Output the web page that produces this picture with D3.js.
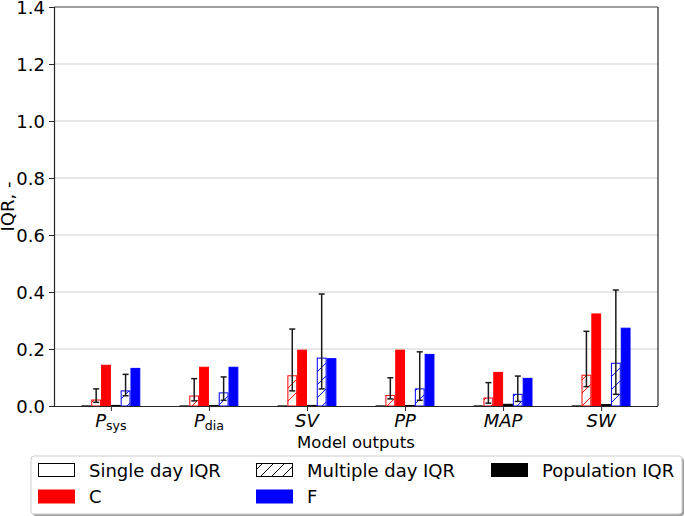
<!DOCTYPE html>
<html><head><meta charset="utf-8">
<script src="https://cdn.jsdelivr.net/npm/d3@7"></script>
<style>
body{margin:0;background:#fff;}
svg{display:block;font-family:"DejaVu Sans",sans-serif;}
</style></head>
<body><svg id="c" width="685" height="516"></svg>
<script>
// ---- data ----
const categories = ["Psys","Pdia","SV","PP","MAP","SW"];
const catMain = ["P","P","SV","PP","MAP","SW"];
const catSub = ["sys","dia","","","",""];
const singleDayC = [0.001,0.001,0.001,0.001,0.001,0.001];
const multiDayC = [0.021,0.035,0.106,0.037,0.028,0.108];
const multiDayCLo = [0.013,0.018,0.053,0.025,0.010,0.068];
const multiDayCHi = [0.060,0.096,0.270,0.099,0.082,0.262];
const populationC = [0.143,0.136,0.196,0.196,0.118,0.323];
const singleDayF = [0.002,0.002,0.002,0.002,0.006,0.005];
const multiDayF = [0.053,0.046,0.168,0.060,0.041,0.150];
const multiDayFLo = [0.036,0.020,0.060,0.020,0.016,0.041];
const multiDayFHi = [0.111,0.102,0.393,0.190,0.105,0.407];
const populationF = [0.132,0.136,0.166,0.181,0.097,0.273];
const yTicks = [0,0.2,0.4,0.6,0.8,1.0,1.2,1.4];
const legendLabels = ["Single day IQR","C","Multiple day IQR","F","Population IQR"];

const svg = d3.select("#c");
const L=54,R=658,T=7,B=406;
const x = d3.scaleLinear().domain([-0.58,5.58]).range([L,R]);
const y = d3.scaleLinear().domain([0,1.4]).range([B,T]);
const bw = 0.1;
const FS = 18;

// hatch patterns
const defs = svg.append("defs");
function hatch(id,color,s){
  const p = defs.append("pattern").attr("id",id).attr("patternUnits","userSpaceOnUse")
    .attr("width",s).attr("height",s);
  p.append("rect").attr("width",s).attr("height",s).attr("fill","#fff");
  p.append("path").attr("d",`M0,${s} L${s},0 M-3,3 L3,-3 M${s-3},${s+3} L${s+3},${s-3}`)
    .attr("stroke",color).attr("stroke-width",1).attr("fill","none");
}
hatch("hR","#ff0000",13); hatch("hB","#0000ff",13); hatch("hK","#000",11);

// grid
svg.append("g").selectAll("line").data(yTicks.slice(1)).join("line")
  .attr("x1",L).attr("x2",R).attr("y1",d=>y(d)).attr("y2",d=>y(d))
  .attr("stroke",d=>d===1.4?"#808080":"#cfcfcf").attr("stroke-width",1);

// bars
const series = [
  {vals:singleDayC, off:-0.25, fill:"#fff", stroke:"#333"},
  {vals:multiDayC, off:-0.15, fill:"url(#hR)", stroke:"#ff0000", lo:multiDayCLo, hi:multiDayCHi},
  {vals:populationC, off:-0.05, fill:"#ff0000", stroke:"#ff0000"},
  {vals:singleDayF, off:0.05, fill:"#000", stroke:"#000"},
  {vals:multiDayF, off:0.15, fill:"url(#hB)", stroke:"#0000ff", lo:multiDayFLo, hi:multiDayFHi},
  {vals:populationF, off:0.25, fill:"#0000ff", stroke:"#0000ff"}
];
const gb = svg.append("g");
series.forEach(s=>{
  gb.append("g").selectAll("rect").data(s.vals).join("rect")
    .attr("x",(d,i)=>x(i+s.off-bw/2)+0.5).attr("width",x(bw)-x(0)-1)
    .attr("y",d=>y(d)).attr("height",d=>Math.max(0.5,y(0)-y(d)))
    .attr("fill",s.fill).attr("stroke",s.stroke).attr("stroke-width",1);
});
// error bars
series.filter(s=>s.lo).forEach(s=>{
  const g = svg.append("g").attr("stroke","#1a1a1a").attr("stroke-width",1.5);
  s.vals.forEach((v,i)=>{
    const cx = x(i+s.off);
    g.append("line").attr("x1",cx).attr("x2",cx).attr("y1",y(s.lo[i])).attr("y2",y(s.hi[i]));
    g.append("line").attr("x1",cx-3).attr("x2",cx+3).attr("y1",y(s.lo[i])).attr("y2",y(s.lo[i]));
    g.append("line").attr("x1",cx-3).attr("x2",cx+3).attr("y1",y(s.hi[i])).attr("y2",y(s.hi[i]));
  });
});

// spines
svg.append("line").attr("x1",L).attr("x2",R).attr("y1",T).attr("y2",T).attr("stroke","#808080").attr("stroke-width",1.2);
svg.append("line").attr("x1",R).attr("x2",R).attr("y1",T).attr("y2",B).attr("stroke","#262626").attr("stroke-width",1.2);

// axes
const ya = svg.append("g").attr("transform",`translate(${L},0)`)
  .call(d3.axisLeft(y).tickValues(yTicks).tickFormat(d3.format(".1f")).tickSize(5).tickPadding(4));
ya.select(".domain").attr("stroke","#262626").attr("stroke-width",1.2);
ya.selectAll(".tick line").attr("stroke","#262626");
ya.selectAll(".tick text").attr("font-size",FS).attr("font-family","DejaVu Sans").attr("fill","#000").attr("dy","0.36em");

const xa = svg.append("g").attr("transform",`translate(0,${B})`)
  .call(d3.axisBottom(x).tickValues(d3.range(categories.length)).tickFormat("").tickSize(5).tickSizeOuter(0));
xa.select(".domain").attr("stroke","#262626").attr("stroke-width",1.2).attr("d",`M${L},0.5H${R}`);
xa.selectAll(".tick line").attr("stroke","#262626");
const xl = svg.append("g").selectAll("text").data(categories).join("text")
  .attr("x",(d,i)=>x(i)).attr("y",427).attr("text-anchor","middle").attr("font-size",FS);
xl.append("tspan").attr("font-style","italic").text((d,i)=>catMain[i]);
xl.append("tspan").attr("font-size",12.6).attr("dy",2.5).text((d,i)=>catSub[i]);

svg.append("text").attr("x",(L+R)/2).attr("y",448).attr("text-anchor","middle").attr("font-size",16.5).text("Model outputs");
svg.append("text").attr("transform",`translate(14,${(T+B)/2}) rotate(-90)`).attr("text-anchor","middle").attr("font-size",FS).text("IQR, -");

// legend
const lg = svg.append("g");
lg.append("rect").attr("x",33).attr("y",458).attr("width",651).attr("height",58).attr("rx",3).attr("fill","#a0a0a0");
lg.append("rect").attr("x",31).attr("y",456).attr("width",651).attr("height",58).attr("rx",3).attr("fill","#fff").attr("stroke","#cccccc").attr("stroke-width",1);
const handles = [
  {fill:"#fff",stroke:"#000"},{fill:"#ff0000",stroke:"#ff0000"},
  {fill:"url(#hK)",stroke:"#000"},{fill:"#0000ff",stroke:"#0000ff"},
  {fill:"#000",stroke:"#000"}
];
const colX = [38,256,491];
const rowY = [463.5,490];
legendLabels.forEach((lab,i)=>{
  const c = Math.floor(i/2), r = i%2;
  lg.append("rect").attr("x",colX[c]+0.5).attr("y",rowY[r]).attr("width",36).attr("height",13)
    .attr("fill",handles[i].fill).attr("stroke",handles[i].stroke).attr("stroke-width",1);
  lg.append("text").attr("x",colX[c]+51).attr("y",rowY[r]+13).attr("font-size",FS).text(lab);
});
</script></body></html>
